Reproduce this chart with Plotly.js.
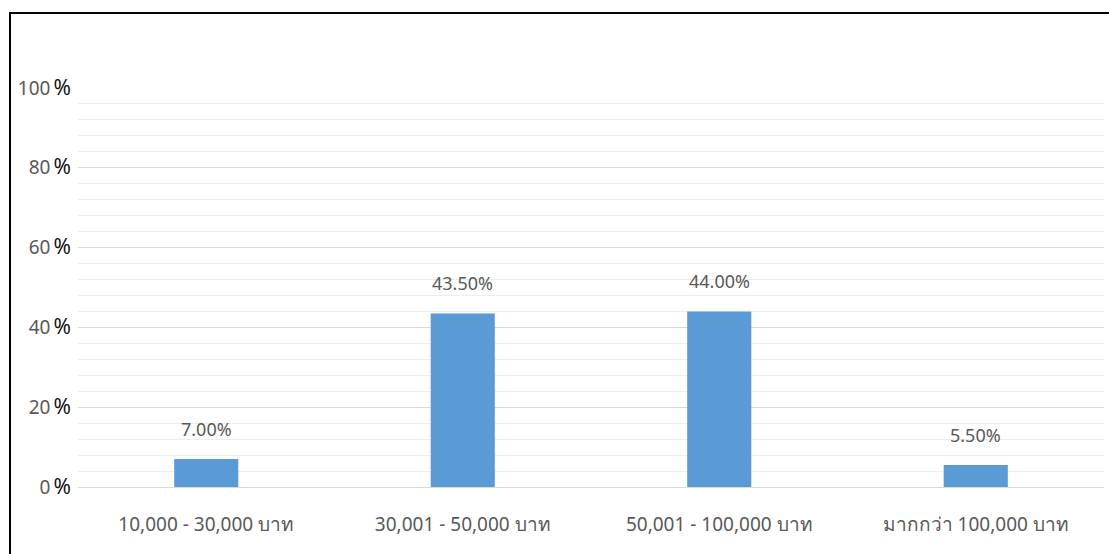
<!DOCTYPE html>
<html>
<head>
<meta charset="utf-8">
<script src="https://cdn.plot.ly/plotly-3.0.1.min.js"></script>
<style>
  html, body { margin: 0; padding: 0; background: #fff; overflow: hidden; }
  #chart { width: 1109px; height: 554px; }
  #frame { position: absolute; left: 9px; top: 12px; width: 1200px; height: 600px;
           border: 2px solid #000; pointer-events: none; box-sizing: border-box; }
</style>
</head>
<body>
<div id="chart"></div>
<div id="frame"></div>
<script>
const categories = ["10,000 - 30,000 บาท", "30,001 - 50,000 บาท", "50,001 - 100,000 บาท", "มากกว่า 100,000 บาท"];
const values = [7.0, 43.5, 44.0, 5.5];
const valueLabels = ["7.00%", "43.50%", "44.00%", "5.50%"];
const yTickVals = [0, 20, 40, 60, 80, 100];
const yTickText = yTickVals.map(v => v + '\u2009<span style="color:#111;font-size:21px">%</span>');

const FONT = "Noto Sans, Open Sans, DejaVu Sans, sans-serif";
const GRAY = "#595959";

const trace = {
  type: "bar",
  x: categories,
  y: values,
  marker: { color: "#5b9bd5", line: { width: 0 } },
  hoverinfo: "skip"
};

const annotations = categories.map((c, i) => ({
  x: c, y: values[i], text: valueLabels[i],
  xref: "x", yref: "y", showarrow: false,
  yanchor: "bottom", yshift: 16,
  font: { family: FONT, size: 18, color: GRAY }
}));

const layout = {
  width: 1109, height: 554,
  margin: { l: 78, r: 5, t: 88, b: 67 },
  paper_bgcolor: "#fff", plot_bgcolor: "#fff",
  showlegend: false,
  bargap: 0.75,
  font: { family: FONT, size: 18, color: GRAY },
  xaxis: {
    type: "category",
    showgrid: false, zeroline: false, showline: false,
    ticks: "", ticklabelstandoff: 24,
    tickfont: { family: FONT, size: 19, color: GRAY }
  },
  yaxis: {
    range: [0, 100], fixedrange: true,
    tickvals: yTickVals, ticktext: yTickText,
    showgrid: true, gridcolor: "#d9d9d9", gridwidth: 1,
    zeroline: true, zerolinecolor: "#d9d9d9", zerolinewidth: 1,
    showline: false, ticks: "", ticklabelstandoff: 6,
    tickfont: { family: FONT, size: 19, color: GRAY },
    minor: { dtick: 4, showgrid: true, gridcolor: "#ededed", gridwidth: 1 }
  },
  annotations: annotations
};

Plotly.newPlot("chart", [trace], layout, { displayModeBar: false, staticPlot: true });
</script>
</body>
</html>
